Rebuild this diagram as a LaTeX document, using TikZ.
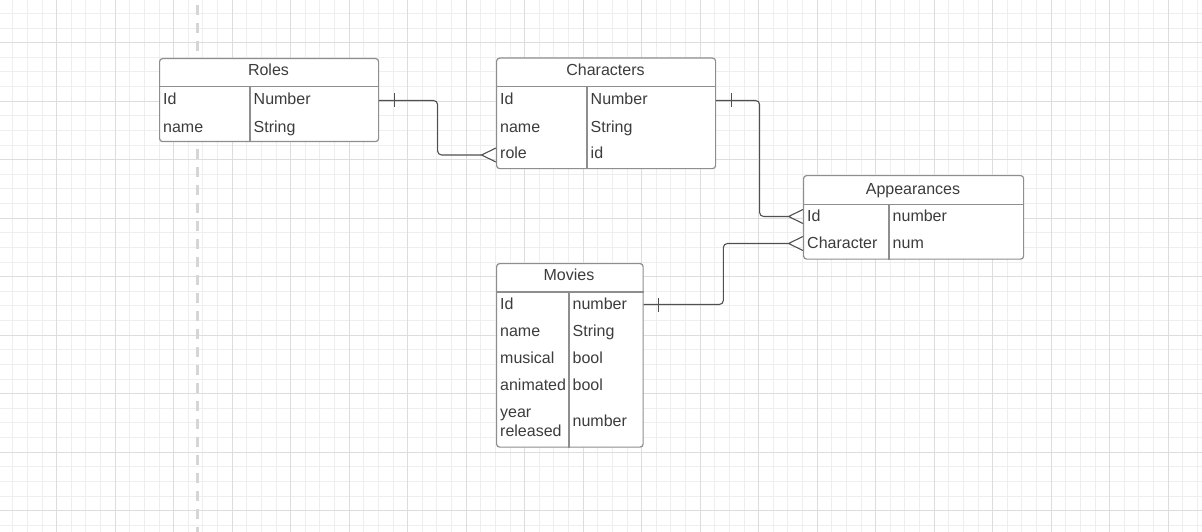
\documentclass[tikz,border=0pt]{standalone}
\usepackage{fontspec}
\setmainfont{Liberation Sans}
\usetikzlibrary{calc,positioning}
\definecolor{gridminor}{HTML}{EEEEEE}
\definecolor{gridmajor}{HTML}{DDDDDD}
\definecolor{guide}{HTML}{D6D6D6}
\definecolor{tabline}{HTML}{8E8E8E}
\definecolor{tabtext}{HTML}{3C3C3C}
\definecolor{linkcol}{HTML}{505050}
\tikzset{
  tabbox/.style={draw=tabline, line width=1.2pt, fill=white, rounded corners=3pt,
    anchor=north west, inner sep=0pt},
  tabsep/.style={draw=tabline, line width=1.2pt},
  cell/.style={anchor=base west, inner sep=0pt, text=tabtext},
  title/.style={anchor=base, inner sep=0pt, text=tabtext},
  link/.style={draw=linkcol, line width=1.1pt, rounded corners=4pt},
  foot/.style={draw=linkcol, line width=1.1pt},
}

\begin{document}
\begin{tikzpicture}[x=1pt, y=-1pt, font=\fontsize{16}{19.5}\selectfont]
  \useasboundingbox (0,0) rectangle (1202,532);
  % grid paper
  \foreach \k in {-3,...,78}
    \draw[gridminor, line width=1pt] (56.7+14.625*\k,0) -- (56.7+14.625*\k,532);
  \foreach \k in {-2,...,33}
    \draw[gridminor, line width=1pt] (0,42.7+14.625*\k) -- (1202,42.7+14.625*\k);
  \foreach \k in {-4,0,...,76}
    \draw[gridmajor, line width=1pt] (56.7+14.625*\k,0) -- (56.7+14.625*\k,532);
  \foreach \k in {0,4,...,32}
    \draw[gridmajor, line width=1pt] (0,42.7+14.625*\k) -- (1202,42.7+14.625*\k);
  % page guide
  \draw[guide, line width=3pt, dash pattern=on 10pt off 8pt, dash phase=13pt] (197,0) -- (197,532);

  % Roles
  \node[tabbox, minimum width=219pt, minimum height=83pt] (roles) at (159,58) {};
  \draw[tabsep] (roles.west |- 0,86.5) -- (roles.east |- 0,86.5);
  \draw[tabsep] (250,86.5) -- (roles.south -| 250,0);
  \node[title] (roles-t) at (268.5,76) {Roles};
  \node[cell] (roles-id) at (163,105) {Id};
  \node[cell] (roles-idt) at (253.5,105) {Number};
  \node[cell] (roles-nm) at (163,132) {name};
  \node[cell] (roles-nmt) at (253.5,132) {String};

  % Characters
  \node[tabbox, minimum width=219pt, minimum height=110.5pt] (chars) at (496,57.5) {};
  \draw[tabsep] (chars.west |- 0,86.5) -- (chars.east |- 0,86.5);
  \draw[tabsep] (587,86.5) -- (chars.south -| 587,0);
  \node[title] (chars-t) at (605.5,76) {Characters};
  \node[cell] (chars-id) at (500,105) {Id};
  \node[cell] (chars-idt) at (590.5,105) {Number};
  \node[cell] (chars-nm) at (500,132) {name};
  \node[cell] (chars-nmt) at (590.5,132) {String};
  \node[cell] (chars-rl) at (500,159) {role};
  \node[cell] (chars-rlt) at (590.5,159) {id};

  % Appearances
  \node[tabbox, minimum width=220pt, minimum height=83.5pt] (apps) at (803,175) {};
  \draw[tabsep] (apps.west |- 0,204.3) -- (apps.east |- 0,204.3);
  \draw[tabsep] (889,204.3) -- (apps.south -| 889,0);
  \node[title] (apps-t) at (913,194) {Appearances};
  \node[cell] (apps-id) at (807,221) {Id};
  \node[cell] (apps-idt) at (892.5,221) {number};
  \node[cell] (apps-ch) at (807,248) {Character};
  \node[cell] (apps-cht) at (892.5,248) {num};

  % Movies
  \node[tabbox, minimum width=146.5pt, minimum height=183.5pt] (movies) at (496,263) {};
  \draw[tabsep] (movies.west |- 0,292) -- (movies.east |- 0,292);
  \draw[tabsep] (569,292) -- (movies.south -| 569,0);
  \node[title] (movies-t) at (569,280) {Movies};
  \node[cell] (movies-id) at (500,309) {Id};
  \node[cell] (movies-idt) at (572.5,309) {number};
  \node[cell] (movies-nm) at (500,336) {name};
  \node[cell] (movies-nmt) at (572.5,336) {String};
  \node[cell] (movies-mu) at (500,363) {musical};
  \node[cell] (movies-mut) at (572.5,363) {bool};
  \node[cell] (movies-an) at (500,390) {animated};
  \node[cell] (movies-ant) at (572.5,390) {bool};
  \node[cell, align=left] (movies-yr) at (500,436.5) {year\\released};
  \node[cell] (movies-yrt) at (572.5,426.5) {number};

  % relation ends
  \coordinate (rolesA) at ($(roles.east |- roles-id.base)+(0,-4.5)$);
  \coordinate (charsA) at ($(chars.west |- chars-rl.base)+(0,-4)$);
  \coordinate (charsB) at ($(chars.east |- chars-id.base)+(0,-4.5)$);
  \coordinate (appsB) at ($(apps.west |- apps-id.base)+(0,-4.5)$);
  \coordinate (moviesC) at ($(movies.east |- movies-id.base)+(0,-4.5)$);
  \coordinate (appsC) at ($(apps.west |- apps-ch.base)+(0,-4.5)$);
  \coordinate (midA) at ($(rolesA)!.5!(charsA)$);
  \coordinate (midB) at ($(charsB)!.5!(appsB)$);
  \coordinate (midC) at ($(moviesC)!.5!(appsC)$);

  % Roles 1 -- many Characters
  \draw[link] (rolesA) -| (midA |- charsA) -- ($(charsA)+(-14.5,0)$);
  \draw[foot] ($(rolesA)+(15,-7)$) -- ($(rolesA)+(15,7)$);
  \draw[foot] ($(charsA)+(0,-7)$) -- ($(charsA)+(-14.5,0)$) -- ($(charsA)+(0,7)$);
  % Characters 1 -- many Appearances
  \draw[link] (charsB) -| (midB |- appsB) -- ($(appsB)+(-14.5,0)$);
  \draw[foot] ($(charsB)+(15,-7)$) -- ($(charsB)+(15,7)$);
  \draw[foot] ($(appsB)+(0,-7)$) -- ($(appsB)+(-14.5,0)$) -- ($(appsB)+(0,7)$);
  % Movies 1 -- many Appearances
  \draw[link] (moviesC) -| (midC |- appsC) -- ($(appsC)+(-14.5,0)$);
  \draw[foot] ($(moviesC)+(15,-7)$) -- ($(moviesC)+(15,7)$);
  \draw[foot] ($(appsC)+(0,-7)$) -- ($(appsC)+(-14.5,0)$) -- ($(appsC)+(0,7)$);
\end{tikzpicture}
\end{document}
